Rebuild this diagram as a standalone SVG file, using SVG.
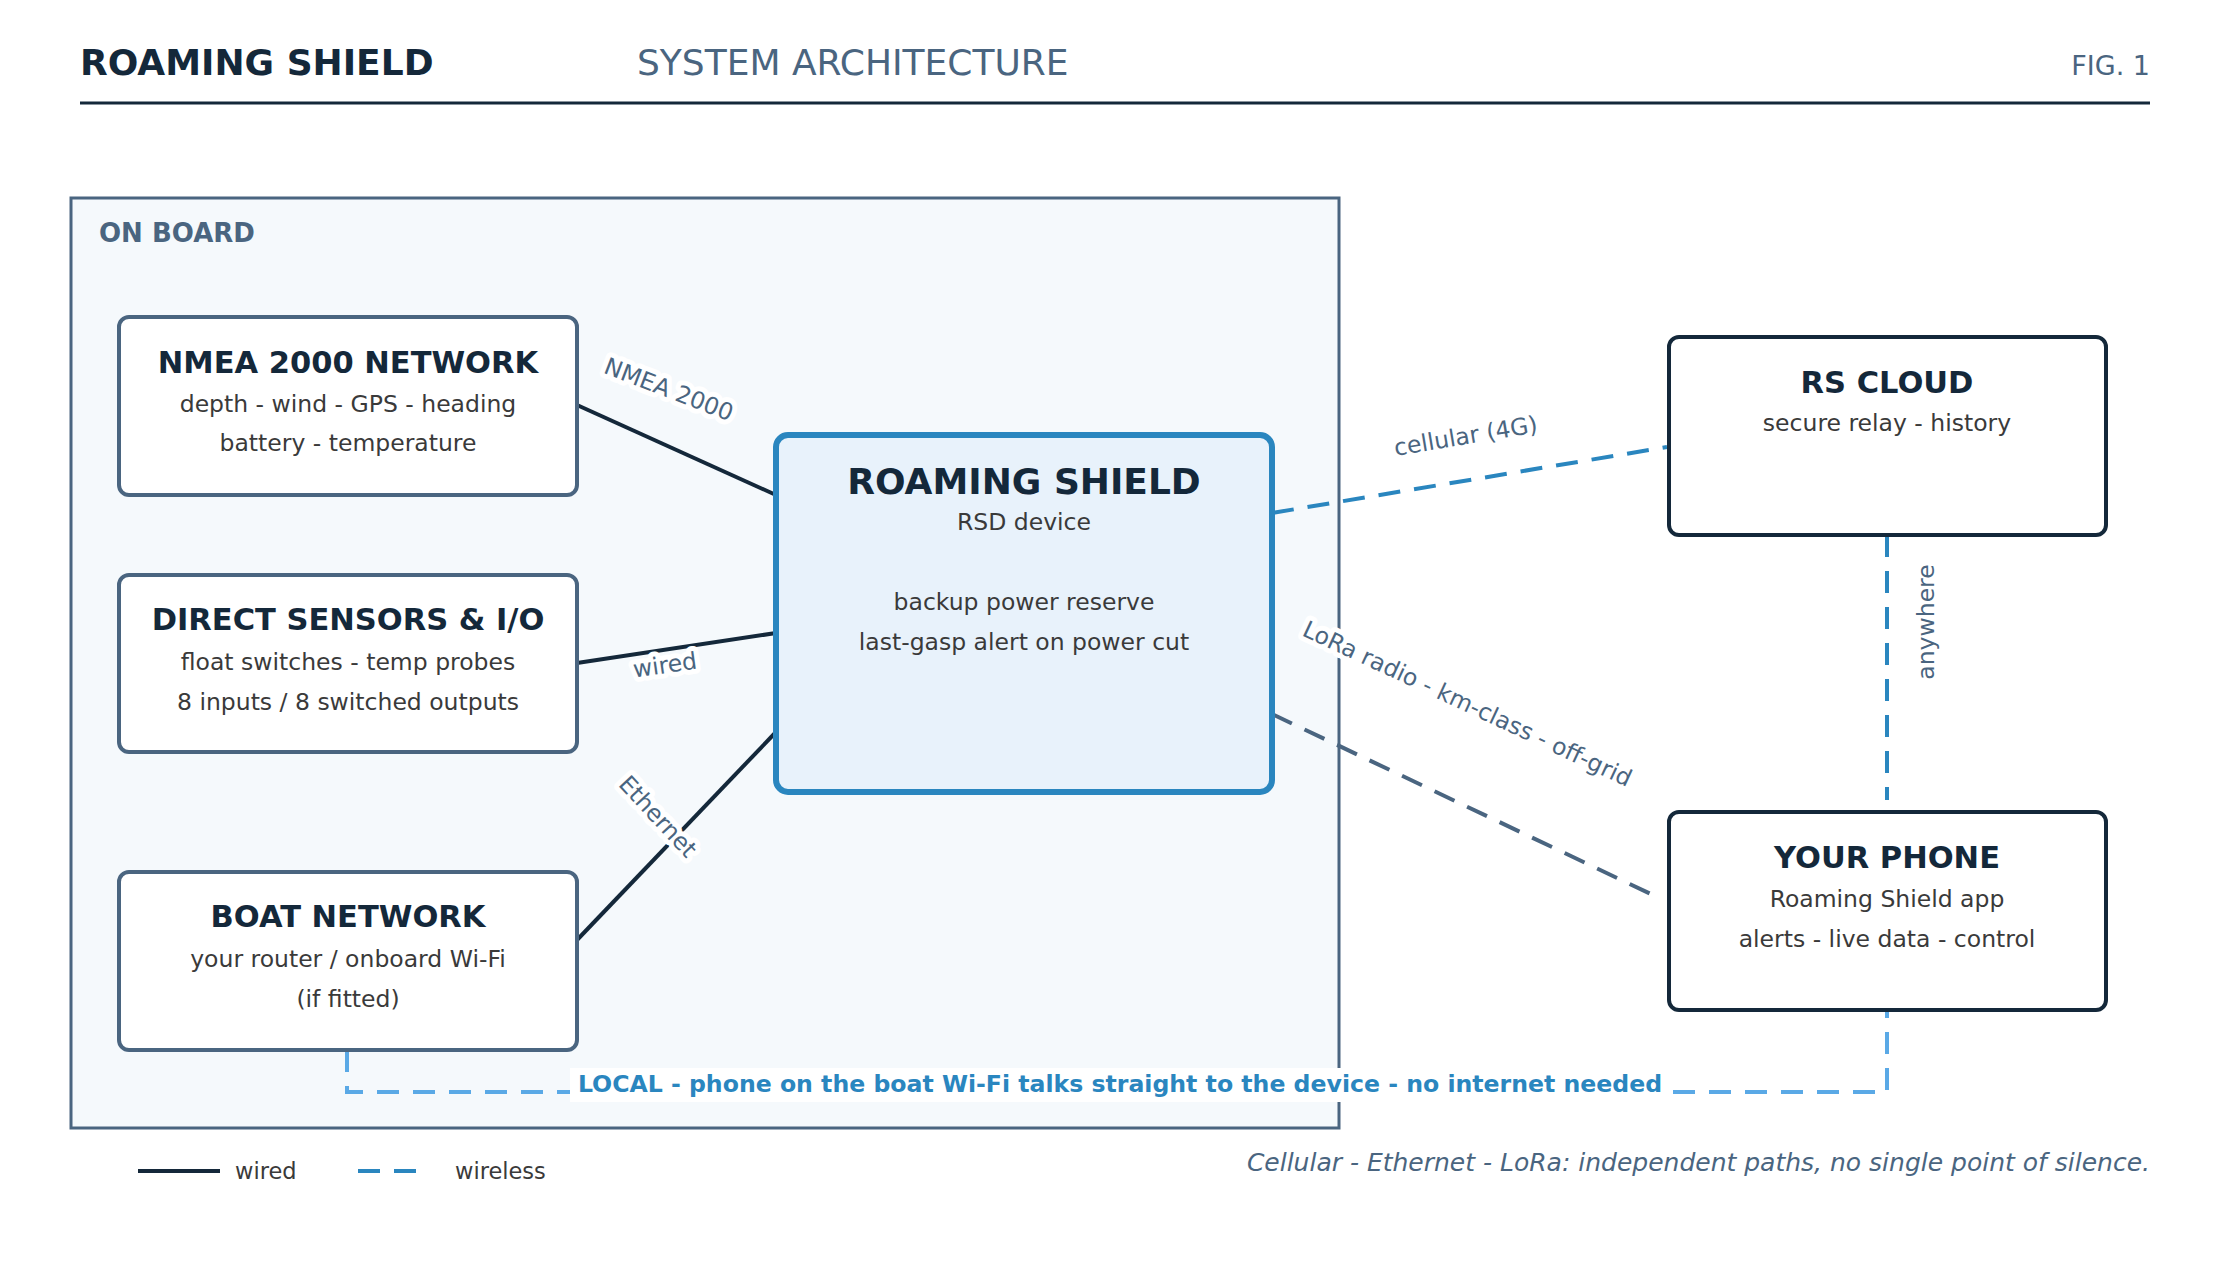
<svg xmlns="http://www.w3.org/2000/svg" width="2223" height="1263" viewBox="0 0 2223 1263">
<style>
text{font-family:"DejaVu Sans","Noto Sans",sans-serif}
.t{font-weight:bold;fill:#14283a;font-size:30.5px;text-anchor:middle}
.s{fill:#3a3a3a;font-size:23.5px;text-anchor:middle}
.box{fill:#fff;stroke:#4a6580;stroke-width:4}
.dbox{fill:#fff;stroke:#14283a;stroke-width:4}
.w{stroke:#14283a;stroke-width:4;fill:none}
.cl{font-size:23.5px;fill:#4a6580;text-anchor:middle;stroke:#fff;stroke-width:10;paint-order:stroke;stroke-linejoin:round}
</style>
<rect width="2223" height="1263" fill="#fff"/>
<text x="80" y="75" font-size="36" font-weight="bold" fill="#14283a">ROAMING SHIELD</text>
<text x="637" y="75" font-size="36" fill="#4a6580">SYSTEM ARCHITECTURE</text>
<text x="2150" y="75" font-size="27" fill="#4a6580" text-anchor="end">FIG. 1</text>
<line x1="80" y1="103" x2="2150" y2="103" stroke="#14283a" stroke-width="3"/>
<g id="onboard">
<rect x="71" y="198" width="1268" height="930" fill="#f5f9fc" stroke="#4a6580" stroke-width="3"/>
<text x="99" y="242" font-size="26" font-weight="bold" fill="#4a6580">ON BOARD</text>
</g>
<g id="connectors">
<line class="w" x1="577" y1="405" x2="776" y2="495"/>
<line class="w" x1="577" y1="663" x2="776" y2="633"/>
<line class="w" x1="577" y1="940" x2="776" y2="732"/>
<line x1="1272" y1="513" x2="1667" y2="447" stroke="#2a86bf" stroke-width="4" stroke-dasharray="22 14"/>
<line x1="1272" y1="714" x2="1655" y2="896" stroke="#4a6580" stroke-width="4" stroke-dasharray="22 14"/>
<line x1="1887" y1="535" x2="1887" y2="800" stroke="#2a86bf" stroke-width="4" stroke-dasharray="22 14"/>
<polyline points="347,1050 347,1092 1887,1092 1887,1010" fill="none" stroke="#5aa9e6" stroke-width="4" stroke-dasharray="22 14"/>
<text class="cl" transform="translate(666,397) rotate(21)">NMEA 2000</text>
<text class="cl" transform="translate(666,673) rotate(-8)">wired</text>
<text class="cl" transform="translate(652,822) rotate(47)">Ethernet</text>
<text class="cl" transform="translate(1467,444) rotate(-9.5)">cellular (4G)</text>
<text class="cl" transform="translate(1464,711) rotate(25)">LoRa radio - km-class - off-grid</text>
<text class="cl" transform="translate(1934,622) rotate(-90)">anywhere</text>
<rect x="570" y="1068" width="1100" height="34" fill="#fff"/>
<text x="1120" y="1092" font-size="23.6" font-weight="bold" fill="#2a86bf" text-anchor="middle">LOCAL - phone on the boat Wi-Fi talks straight to the device - no internet needed</text>
</g>
<g id="nmea">
<rect class="box" x="119" y="317" width="458" height="178" rx="10"/>
<text class="t" x="348" y="373">NMEA 2000 NETWORK</text>
<text class="s" x="348" y="412">depth - wind - GPS - heading</text>
<text class="s" x="348" y="451">battery - temperature</text>
</g>
<g id="sensors">
<rect class="box" x="119" y="575" width="458" height="177" rx="10"/>
<text class="t" x="348" y="630">DIRECT SENSORS &amp; I/O</text>
<text class="s" x="348" y="670">float switches - temp probes</text>
<text class="s" x="348" y="710">8 inputs / 8 switched outputs</text>
</g>
<g id="boatnet">
<rect class="box" x="119" y="872" width="458" height="178" rx="10"/>
<text class="t" x="348" y="927">BOAT NETWORK</text>
<text class="s" x="348" y="967">your router / onboard Wi-Fi</text>
<text class="s" x="348" y="1007">(if fitted)</text>
</g>
<g id="device">
<rect x="776" y="435" width="496" height="357" rx="12" fill="#e8f2fb" stroke="#2a86bf" stroke-width="6"/>
<text class="t" x="1024" y="494" style="font-size:36px">ROAMING SHIELD</text>
<text class="s" x="1024" y="530">RSD device</text>
<text class="s" x="1024" y="610">backup power reserve</text>
<text class="s" x="1024" y="650">last-gasp alert on power cut</text>
</g>
<g id="cloud">
<rect class="dbox" x="1669" y="337" width="437" height="198" rx="10"/>
<text class="t" x="1887" y="393">RS CLOUD</text>
<text class="s" x="1887" y="431">secure relay - history</text>
</g>
<g id="phone">
<rect class="dbox" x="1669" y="812" width="437" height="198" rx="10"/>
<text class="t" x="1887" y="868">YOUR PHONE</text>
<text class="s" x="1887" y="907">Roaming Shield app</text>
<text class="s" x="1887" y="947">alerts - live data - control</text>
</g>
<g id="legend">
<line x1="138" y1="1171" x2="220" y2="1171" stroke="#14283a" stroke-width="4"/>
<text x="235" y="1179" font-size="22.5" fill="#3a3a3a">wired</text>
<line x1="358" y1="1171" x2="422" y2="1171" stroke="#2a86bf" stroke-width="4" stroke-dasharray="22 14"/>
<text x="455" y="1179" font-size="22.5" fill="#3a3a3a">wireless</text>
<text x="2150" y="1171" font-size="25" font-style="italic" fill="#4a6580" text-anchor="end">Cellular - Ethernet - LoRa: independent paths, no single point of silence.</text>
</g>
</svg>
